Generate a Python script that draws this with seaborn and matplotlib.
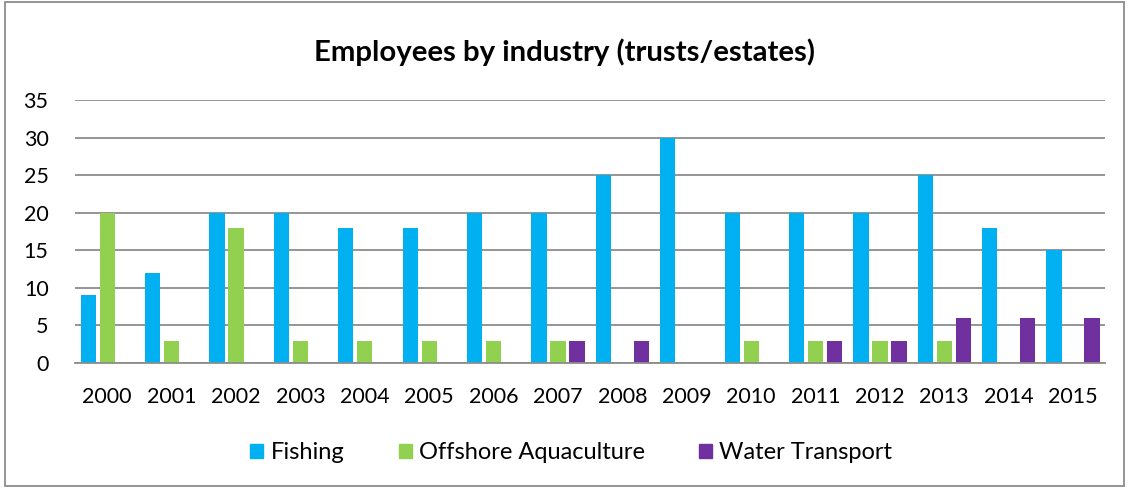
import pandas as pd
import matplotlib.pyplot as plt
import matplotlib.patches as mpatches
import seaborn as sns

sns.set_theme(style="white")
plt.rcParams['font.family'] = ['Lato', 'DejaVu Sans']
plt.rcParams['text.color'] = 'black'

# data
years = [str(y) for y in range(2000, 2016)]
fishing = [9, 12, 20, 20, 18, 18, 20, 20, 25, 30, 20, 20, 20, 25, 18, 15]
offshore = [20, 3, 18, 3, 3, 3, 3, 3, 0, 0, 3, 3, 3, 3, 0, 0]
water = [0, 0, 0, 0, 0, 0, 0, 3, 3, 0, 0, 3, 3, 6, 6, 6]

series = ["Fishing", "Offshore Aquaculture", "Water Transport"]
colors = {"Fishing": "#00B0F0", "Offshore Aquaculture": "#92D050",
          "Water Transport": "#7030A0"}

df = pd.DataFrame({
    "year": years * 3,
    "industry": [series[0]] * 16 + [series[1]] * 16 + [series[2]] * 16,
    "employees": fishing + offshore + water,
})

fig = plt.figure(figsize=(11.29, 4.88), dpi=100)
ax = fig.add_axes([0.0664, 0.256, 0.9126, 0.539])

sns.barplot(data=df, x="year", y="employees", hue="industry",
            palette=colors, hue_order=series, width=0.885, gap=0.2,
            saturation=1, linewidth=0, ax=ax, legend=False)

ax.set_ylim(0, 35)
ax.set_yticks(range(0, 36, 5))
ax.set_xlim(-0.5, 15.5)
ax.yaxis.grid(True, color="#8c8c8c", linewidth=1.3)
ax.set_axisbelow(True)
for s in ["top", "right", "left"]:
    ax.spines[s].set_visible(False)
ax.spines["bottom"].set_color("#8c8c8c")
ax.spines["bottom"].set_linewidth(1.3)
ax.tick_params(axis="both", length=0, labelsize=15.5, colors="black")
ax.tick_params(axis="x", pad=17)
ax.tick_params(axis="y", pad=19)
ax.set_xlabel("")
ax.set_ylabel("")

fig.text(0.5, 0.893, "Employees by industry (trusts/estates)", ha="center",
         va="center", fontsize=21.2, fontweight="bold", color="black")

handles = [mpatches.Patch(color=colors[s], label=s) for s in series]
fig.legend(handles=handles, loc="center", bbox_to_anchor=(0.506, 0.072),
           ncol=3, frameon=False, fontsize=17, handlelength=0.55,
           handleheight=0.55, handletextpad=0.3, columnspacing=2.3)

fig.patches.append(mpatches.Rectangle((0.004, 0.004), 0.992, 0.992,
                                      transform=fig.transFigure, fill=False,
                                      edgecolor="#8c8c8c", linewidth=1.3))

fig.savefig("out.png", dpi=100)
